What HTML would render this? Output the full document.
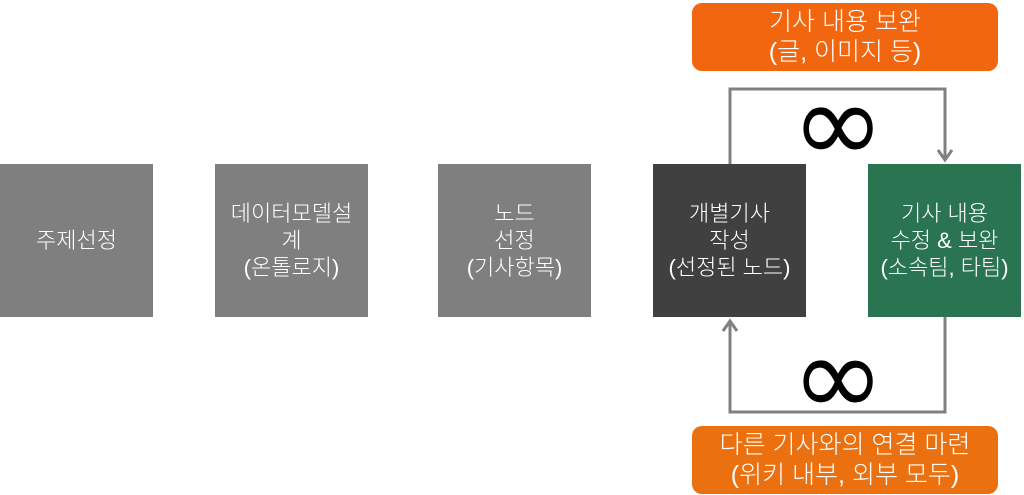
<!DOCTYPE html>
<html><head><meta charset="utf-8"><style>
body{margin:0;width:1024px;height:495px;background:#fff;position:relative;overflow:hidden;font-family:"Liberation Sans","Noto Sans CJK KR",sans-serif;}
.b{position:absolute;top:164px;width:153px;height:153px;background:#7f7f7f;color:#fff;display:flex;align-items:center;justify-content:center;text-align:center;font-size:22px;line-height:27px;box-sizing:border-box;font-weight:300;}
.o{position:absolute;left:692px;width:306px;height:68px;border-radius:10px;color:#fff;display:flex;align-items:center;justify-content:center;text-align:center;font-size:25px;line-height:30px;font-weight:300;}
</style></head><body>
<div class="b" style="left:0">주제선정</div>
<div class="b" style="left:215px">데이터모델설<br>계<br>(온톨로지)</div>
<div class="b" style="left:438px">노드<br>선정<br>(기사항목)</div>
<div class="b" style="left:653px;background:#404040">개별기사<br>작성<br>(선정된 노드)</div>
<div class="b" style="left:868px;background:#2b7452">기사 내용<br>수정 &amp; 보완<br>(소속팀, 타팀)</div>
<div class="o" style="top:3px;background:#f36610">기사 내용 보완<br>(글, 이미지 등)</div>
<div class="o" style="top:426px;background:#eb700f">다른 기사와의 연결 마련<br>(위키 내부, 외부 모두)</div>
<svg width="1024" height="495" style="position:absolute;left:0;top:0">
<g fill="none" stroke="#808080" stroke-width="3">
<polyline points="730,164 730,89 945,89 945,160"/>
<polyline points="938,150 945,160 952,150"/>
<polyline points="945,317 945,412 730,412 730,321"/>
<polyline points="723,331 730,321 737,331"/>
</g>
<text x="838" y="162" font-size="112" text-anchor="middle" font-family="DejaVu Sans, sans-serif" fill="#000">∞</text>
<text x="838" y="415" font-size="112" text-anchor="middle" font-family="DejaVu Sans, sans-serif" fill="#000">∞</text>
</svg>
</body></html>
